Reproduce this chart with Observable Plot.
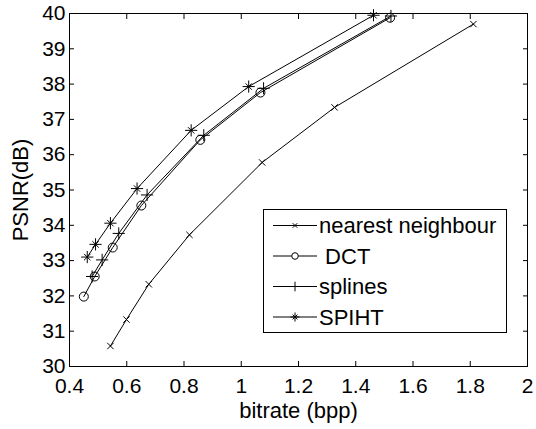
<!DOCTYPE html>
<html>
<head>
<meta charset="utf-8">
<script src="https://cdn.jsdelivr.net/npm/d3@7"></script>
<script src="https://cdn.jsdelivr.net/npm/@observablehq/plot@0.6"></script>
<style>
  html, body { margin: 0; padding: 0; background: white; }
  #wrap { position: relative; width: 536px; height: 429px; }
  #legend { position: absolute; left: 0; top: 0; }
</style>
</head>
<body>
<div id="wrap"></div>
<script>
// ---- data ----
const nnX   = [0.543, 0.599, 0.677, 0.819, 1.073, 1.326, 1.811];
const nnY   = [30.58, 31.33, 32.33, 33.73, 35.78, 37.34, 39.70];
const dctX  = [0.450, 0.488, 0.551, 0.651, 0.857, 1.067, 1.520];
const dctY  = [31.98, 32.55, 33.37, 34.56, 36.42, 37.76, 39.88];
const splX  = [0.479, 0.514, 0.572, 0.671, 0.869, 1.078, 1.523];
const splY  = [32.55, 33.02, 33.77, 34.86, 36.55, 37.88, 39.93];
const spX   = [0.462, 0.491, 0.543, 0.636, 0.825, 1.026, 1.462];
const spY   = [33.10, 33.46, 34.06, 35.04, 36.69, 37.93, 39.95];
const xTicks = [0.4, 0.6, 0.8, 1, 1.2, 1.4, 1.6, 1.8, 2];
const yTicks = [30, 31, 32, 33, 34, 35, 36, 37, 38, 39, 40];
const seriesNames = ["nearest neighbour", " DCT", "splines", "SPIHT"];

const toRows = (xs, ys) => xs.map((x, i) => ({x, y: ys[i]}));
const nn = toRows(nnX, nnY), dct = toRows(dctX, dctY), spl = toRows(splX, splY), sp = toRows(spX, spY);

const font = "'Liberation Sans', Arial, Helvetica, sans-serif";
const fmt = d => String(d);

const chart = Plot.plot({
  width: 536,
  height: 429,
  marginLeft: 69,
  marginRight: 9,
  marginTop: 13,
  marginBottom: 63,
  style: {fontFamily: font, fontSize: "21px", background: "white", color: "black", overflow: "visible"},
  x: {domain: [0.4, 2]},
  y: {domain: [30, 40]},
  marks: [
    Plot.frame({stroke: "black", strokeWidth: 1}),
    Plot.axisX({ticks: xTicks, tickSize: -5, tickPadding: 17, tickFormat: fmt, fontSize: 21, label: null}),
    Plot.axisX({ticks: [], label: "bitrate (bpp)", labelAnchor: "center", labelOffset: 51, labelArrow: false, fontSize: 22}),
    Plot.axisX({anchor: "top", ticks: xTicks, tickSize: -5, tickFormat: () => "", label: null}),
    Plot.axisY({ticks: yTicks, tickSize: -5, tickPadding: 9, tickFormat: fmt, fontSize: 21, label: null}),
    Plot.axisY({ticks: [], label: "PSNR(dB)", labelAnchor: "center", labelOffset: 57, labelArrow: false, fontSize: 22}),
    Plot.axisY({anchor: "right", ticks: yTicks, tickSize: -5, tickFormat: () => "", label: null}),
    Plot.line(nn, {x: "x", y: "y", stroke: "black", strokeWidth: 1}),
    Plot.line(dct, {x: "x", y: "y", stroke: "black", strokeWidth: 1}),
    Plot.line(spl, {x: "x", y: "y", stroke: "black", strokeWidth: 1}),
    Plot.line(sp, {x: "x", y: "y", stroke: "black", strokeWidth: 1}),
    Plot.dot(nn, {x: "x", y: "y", symbol: "times", r: 3, stroke: "black", fill: "none", strokeWidth: 1}),
    Plot.dot(dct, {x: "x", y: "y", symbol: "circle", r: 4.5, stroke: "black", fill: "none", strokeWidth: 1}),
    Plot.dot(spl, {x: "x", y: "y", symbol: "plus", r: 4, stroke: "black", fill: "none", strokeWidth: 1}),
    Plot.dot(sp, {x: "x", y: "y", symbol: "plus", r: 4, stroke: "black", fill: "none", strokeWidth: 1}),
    Plot.dot(sp, {x: "x", y: "y", symbol: "times", r: 3, stroke: "black", fill: "none", strokeWidth: 1})
  ]
});
const wrap = document.getElementById("wrap");
wrap.appendChild(chart);

// ---- legend (inside the axes box) ----
const lg = d3.select(wrap).append("svg")
  .attr("id", "legend").attr("width", 536).attr("height", 429)
  .style("font-family", font);
const L = {x: 263, y: 209, w: 243, h: 123};
lg.append("rect").attr("x", L.x + 0.5).attr("y", L.y + 0.5).attr("width", L.w).attr("height", L.h)
  .attr("fill", "white").attr("stroke", "black");
const symbols = [
  [{t: d3.symbolTimes, r: 2.2}],
  [{t: d3.symbolCircle, r: 3.3, circle: true}],
  [{t: d3.symbolPlus, r: 3.2}],
  [{t: d3.symbolPlus, r: 3.0}, {t: d3.symbolTimes, r: 2.3}]
];
seriesNames.forEach((name, i) => {
  const cy = L.y + 16.5 + i * 30.5;
  const g = lg.append("g");
  g.append("line").attr("x1", L.x + 10).attr("x2", L.x + 54).attr("y1", cy).attr("y2", cy)
    .attr("stroke", "black");
  symbols[i].forEach(s => {
    g.append("path").attr("d", d3.symbol(s.t, Math.PI * s.r * s.r)())
      .attr("transform", `translate(${L.x + 32},${cy})`)
      .attr("fill", s.circle ? "white" : "none").attr("stroke", "black");
  });
  g.append("text").attr("x", L.x + 56).attr("y", cy).attr("dy", "0.35em")
    .attr("font-size", 22).attr("xml:space", "preserve").style("white-space", "pre").text(name);
});
</script>
</body>
</html>
